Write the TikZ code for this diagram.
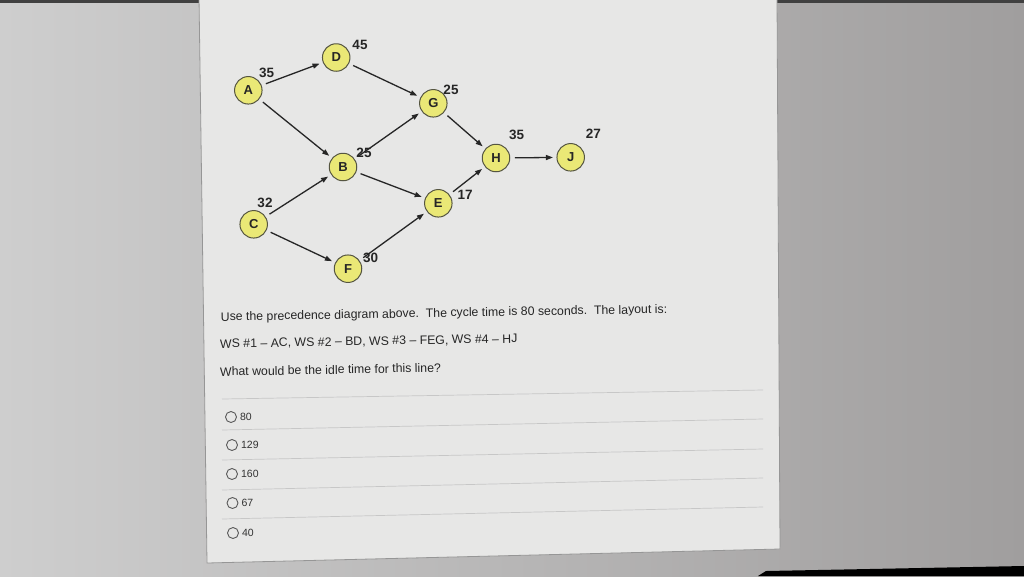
\documentclass[tikz,border=0pt]{standalone}
\usepackage{fontspec}
\setmainfont{Liberation Sans}
\usetikzlibrary{arrows.meta,positioning}
\definecolor{bgleft}{RGB}{206,206,206}
\definecolor{bgright}{RGB}{160,158,158}
\definecolor{panelfill}{RGB}{231,231,230}
\definecolor{panelline}{RGB}{150,150,150}
\definecolor{nodefill}{RGB}{234,232,118}
\definecolor{nodeline}{RGB}{85,85,65}
\begin{document}
\begin{tikzpicture}[x=1pt,y=-1pt]
    
    \tikzstyle{task}=[circle, draw=nodeline, fill=nodefill, line width=1pt, minimum size=27.5pt, inner sep=0pt, font=\fontsize{13}{13}\selectfont\bfseries, text=black!85]
    \tikzstyle{time}=[inner sep=0pt, font=\fontsize{13.5}{13.5}\selectfont\bfseries, text=black!85]
    \tikzstyle{prec}=[-{Triangle[length=7pt,width=5pt]}, line width=1.3pt, draw=black!85, shorten <=4.5pt, shorten >=3.5pt]
    \tikzstyle{question}=[anchor=base west, rotate=1, inner sep=0pt, font=\fontsize{12.3}{14}\selectfont, text=black!85]
    \tikzstyle{radio}=[circle, draw=black!65, line width=0.9pt, minimum size=11pt, inner sep=0pt]
    \tikzstyle{answer}=[anchor=west, inner sep=0pt, font=\fontsize{10.5}{10.5}\selectfont, text=black!80]
    \tikzstyle{sepline}=[draw=black!22, line width=0.7pt]
    
    \useasboundingbox (0,0) rectangle (1024,576);
    \shade[left color=bgleft, right color=bgright] (0,0) rectangle (1024,576);
    \fill[black!75] (0,0) rectangle (1024,2.5);
    \fill[black] (758,576) -- (766,571) -- (1024,566) -- (1024,576) -- cycle;
    \draw[panelline, fill=panelfill, line width=0.8pt] (199,-3) -- (777,-3) -- (780,549) -- (207,563) -- cycle;
    
    % tasks
    \node[task] (A) at (248.3,90.3) {A};
    \node[task] (D) at (336.2,57.5) {D};
    \node[task] (G) at (433.3,103.3) {G};
    \node[task] (B) at (343,167) {B};
    \node[task] (E) at (438.3,203.3) {E};
    \node[task] (C) at (253.7,224.3) {C};
    \node[task] (F) at (348,268.7) {F};
    \node[task] (H) at (496,158) {H};
    \node[task] (J) at (570.7,157.3) {J};
    
    \node[time] (tA) at (266.7,72.7) {35};
    \node[time] (tD) at (360,45) {45};
    \node[time] (tG) at (451,90) {25};
    \node[time] (tB) at (364,153.3) {25};
    \node[time] (tE) at (465,195) {17};
    \node[time] (tC) at (265,203.3) {32};
    \node[time] (tF) at (370.7,258.3) {30};
    \node[time] (tH) at (516.7,135) {35};
    \node[time] (tJ) at (593.3,134) {27};
    
    \draw[prec] (A) -- (D);
    \draw[prec] (A) -- (B);
    \draw[prec] (D) -- (G);
    \draw[prec] (B) -- (G);
    \draw[prec] (B) -- (E);
    \draw[prec] (C) -- (B);
    \draw[prec] (C) -- (F);
    \draw[prec] (F) -- (E);
    \draw[prec] (G) -- (H);
    \draw[prec] (E) -- (H);
    \draw[prec] (H) -- (J);
    
    % question
    \node[question] (q1) at (220.7,321) {Use the precedence diagram above.\ \ The cycle time is 80 seconds.\ \ The layout is:};
    \node[question] (q2) at (220,348) {WS \#1 -- AC, WS \#2 -- BD, WS \#3 -- FEG, WS \#4 -- HJ};
    \node[question] (q3) at (220,376) {What would be the idle time for this line?};
    
    \draw[sepline] (222,399) -- (763,390);
    \draw[sepline] (222,430) -- (763,419);
    \draw[sepline] (222,460) -- (763,449);
    \draw[sepline] (222,490) -- (763,478);
    \draw[sepline] (222,519) -- (763,507);
    
    % answers
    \node[radio] (r1) at (231,417) {};
    \node[radio] (r2) at (232,445) {};
    \node[radio] (r3) at (232,474) {};
    \node[radio] (r4) at (232.5,503) {};
    \node[radio] (r5) at (233,533) {};
    \node[answer, right=3pt of r1] (a1) {80};
    \node[answer, right=3pt of r2] (a2) {129};
    \node[answer, right=3pt of r3] (a3) {160};
    \node[answer, right=3pt of r4] (a4) {67};
    \node[answer, right=3pt of r5] (a5) {40};
    
\end{tikzpicture}
\end{document}
